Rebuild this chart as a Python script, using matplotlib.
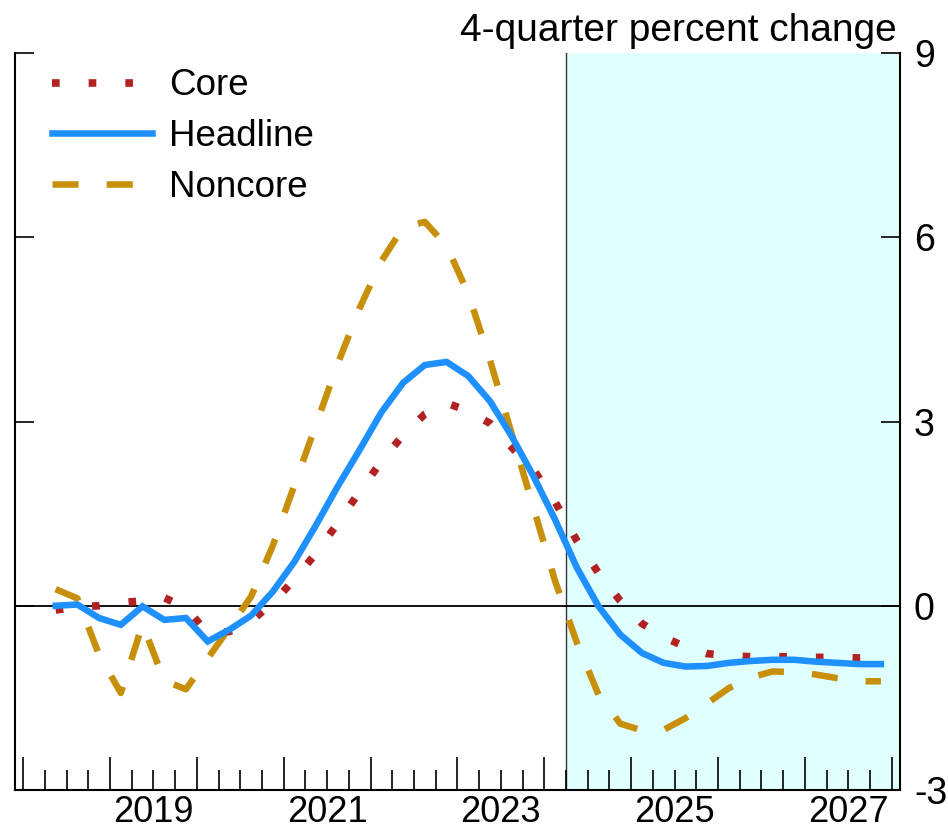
import numpy as np
import pandas as pd
import matplotlib.pyplot as plt

# quarterly data, 2018Q2 - 2027Q4 (4-quarter percent change)
quarters = pd.period_range('2018Q2', '2027Q4', freq='Q')

headline = [0.00, 0.02, -0.20,
            -0.31, -0.01, -0.23, -0.20,
            -0.58, -0.39, -0.16, 0.23,
            0.72, 1.32, 1.95, 2.54,
            3.15, 3.63, 3.92, 3.97,
            3.74, 3.33, 2.76, 2.11,
            1.40, 0.62, -0.01, -0.47,
            -0.77, -0.93, -0.99, -0.98,
            -0.93, -0.90, -0.88, -0.88,
            -0.91, -0.93, -0.95, -0.95]

core = [-0.07, -0.02, 0.00,
        0.05, 0.08, 0.13, -0.03,
        -0.45, -0.42, -0.25, 0.05,
        0.43, 0.86, 1.35, 1.86,
        2.35, 2.78, 3.12, 3.30,
        3.17, 2.97, 2.58, 2.22,
        1.69, 1.06, 0.53, 0.08,
        -0.29, -0.51, -0.67, -0.78,
        -0.81, -0.83, -0.83, -0.83,
        -0.84, -0.84, -0.85, -0.85]

noncore = [0.27, 0.12, -0.80,
           -1.42, -0.30, -1.22, -1.36,
           -0.86, -0.36, 0.15, 0.98,
           1.97, 2.96, 3.95, 4.85,
           5.61, 6.16, 6.25, 5.86,
           5.08, 4.00, 2.80, 1.60,
           0.40, -0.60, -1.45, -1.92,
           -2.03, -2.02, -1.83, -1.59,
           -1.34, -1.17, -1.07, -1.08,
           -1.12, -1.18, -1.23, -1.23]

forecast_start = 2024.25
year_labels = [2019, 2021, 2023, 2025, 2027]
y_ticks = [-3, 0, 3, 6, 9]

# each quarter plotted at its midpoint
x = quarters.year + (quarters.quarter - 0.5) / 4

plt.rcParams['font.family'] = ['Liberation Sans', 'DejaVu Sans']

fig = plt.figure(figsize=(9.48, 8.33), dpi=100)
ax = fig.add_axes([15 / 948, 1 - 790 / 833, 885 / 948, 737 / 833])

xmin, xmax = 2017.907, 2028.095
ax.set_xlim(xmin, xmax)
ax.set_ylim(-3, 9)

# forecast shading
ax.axvspan(forecast_start, xmax, color='#e0ffff', zorder=0, lw=0)
ax.axvline(forecast_start, color='#333333', lw=1.0, zorder=1)
ax.axhline(0, color='black', lw=1.3, zorder=1)

l_core, = ax.plot(x, core, color='#b22222', lw=5.5, linestyle=(0, (1, 3.8)),
                  dash_capstyle='butt', label='Core', zorder=3)
l_non, = ax.plot(x, noncore, color='#c8900a', lw=4.7, linestyle=(0, (4.0, 4.3)),
                 dash_capstyle='butt', label='Noncore', zorder=3)
l_head, = ax.plot(x, headline, color='#1e90ff', lw=4.7, label='Headline',
                  solid_joinstyle='miter', zorder=4)

ax.legend(handles=[l_core, l_head, l_non], loc='upper left',
          bbox_to_anchor=(0.042, 0.979), frameon=False, fontsize=26.5,
          handlelength=2.72, handletextpad=0.45, labelspacing=0.43,
          borderpad=0, borderaxespad=0)

# spines
ax.spines['top'].set_visible(False)
for s in ['left', 'right', 'bottom']:
    ax.spines[s].set_linewidth(1.5)

# x ticks: quarters short, years long
years = np.arange(2018, 2029)
ax.set_xticks(years)
ax.set_xticklabels([''] * len(years))
ax.set_xticks(np.arange(2018, 2028.01, 0.25), minor=True)
ax.tick_params(axis='x', which='major', direction='in', length=24, width=1.2)
ax.tick_params(axis='x', which='minor', direction='in', length=14.4, width=1.2)
for yr in year_labels:
    ax.text(yr + 0.5, -32 / 737, str(yr), transform=ax.get_xaxis_transform(),
            ha='center', va='baseline', fontsize=26)

# y ticks on both sides, labels on right
ax.set_yticks(y_ticks)
ax.set_yticklabels([str(v) for v in y_ticks])
ax.tick_params(axis='y', which='major', direction='in', length=13.7, width=1.2,
               left=True, right=True, labelleft=False, labelright=True,
               labelsize=27, pad=10)

ax.text(0.9966, 1.0163, '4-quarter percent change', transform=ax.transAxes,
        ha='right', va='baseline', fontsize=28)

fig.savefig('out.png', dpi=100)
